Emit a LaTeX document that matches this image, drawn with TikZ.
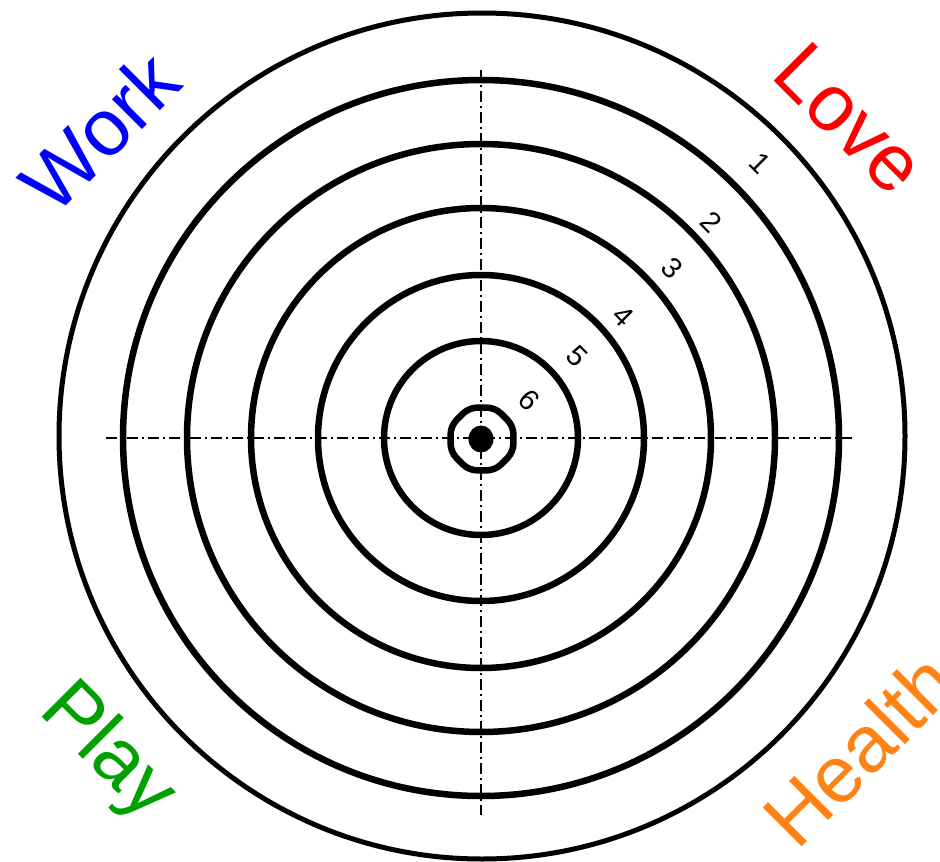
\documentclass[tikz,border=0pt]{standalone}
\usepackage{fontspec}
\setmainfont{Liberation Sans}
\definecolor{workblue}{RGB}{0,0,255}
\definecolor{lovered}{RGB}{255,0,0}
\definecolor{playgreen}{RGB}{0,160,0}
\definecolor{healthorange}{RGB}{255,130,20}
\begin{document}
\begin{tikzpicture}[x=1pt,y=-1pt,
  ring/.style={draw=black,line width=6.5pt},
  outerring/.style={draw=black,line width=5pt},
  axisline/.style={draw=black,line width=2.5pt,dash pattern=on 11pt off 4pt on 2pt off 4pt},
  biglabel/.style={font=\fontsize{80}{80}\selectfont,inner sep=0pt},
  numlabel/.style={font=\fontsize{29}{29}\selectfont,inner sep=0pt,rotate=-45}]
\useasboundingbox (0,0) rectangle (940,862);
\fill[white] (0,0) rectangle (940,862);
\coordinate (c) at (481,438);
% axes
\coordinate (axL) at (106,438);
\coordinate (axR) at (855,438);
\coordinate (axT) at (481,70);
\coordinate (axB) at (481,815);
\draw[axisline] (axL) -- (axR);
\draw[axisline] (axT) -- (axB);
% rings
\draw[outerring] (482,436) circle[radius=423pt];
\foreach \r in {358,294,230,163,97}{
  \draw[ring] (c) circle[radius=\r pt];
}
% center octagon
\draw[ring,rounded corners=8pt,shift={(482,439)}]
  (22.5:34) -- (67.5:34) -- (112.5:34) -- (157.5:34) -- (202.5:34) -- (247.5:34) -- (292.5:34) -- (337.5:34) -- cycle;
\fill[black] (481,439) ellipse[x radius=12.5pt,y radius=13.5pt];
% numbers
\node[numlabel] (n1) at (760,163) {1};
\node[numlabel] (n2) at (711,222) {2};
\node[numlabel] (n3) at (672,268) {3};
\node[numlabel] (n4) at (623,316) {4};
\node[numlabel] (n5) at (577,356) {5};
\node[numlabel] (n6) at (529,400) {6};
% labels
\node[biglabel,text=workblue,rotate=45] (work) at (99.5,131.5) {Work};
\node[biglabel,text=lovered,rotate=-45] (love) at (849.8,118.8) {Love};
\node[biglabel,text=playgreen,rotate=-45] (play) at (106.7,752.7) {Play};
\node[biglabel,text=healthorange,rotate=45] (health) at (859,750) {Health};
\end{tikzpicture}
\end{document}
